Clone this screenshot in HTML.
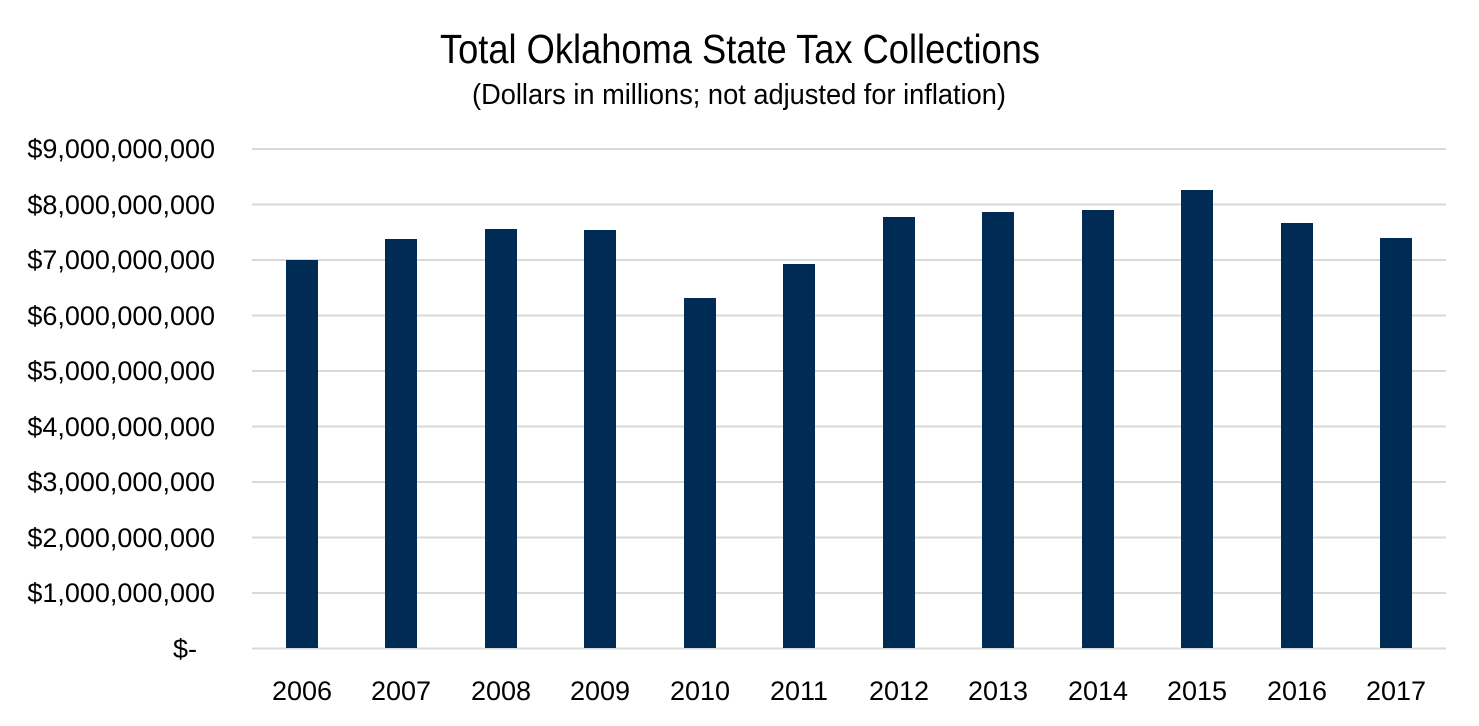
<!DOCTYPE html>
<html><head><meta charset="utf-8"><style>
html,body{margin:0;padding:0;background:#fff;}
svg{display:block;font-family:"Liberation Sans Narrow","Liberation Sans",sans-serif;}
</style></head><body>
<svg width="1479" height="726" viewBox="0 0 1479 726" xmlns="http://www.w3.org/2000/svg">
<rect width="1479" height="726" fill="#fff"/>
<text x="440" y="63" font-size="41" fill="#000" textLength="600" lengthAdjust="spacingAndGlyphs">Total Oklahoma State Tax Collections</text>
<text x="472" y="104" font-size="29" fill="#000" textLength="534" lengthAdjust="spacingAndGlyphs">(Dollars in millions; not adjusted for inflation)</text>
<g stroke="#d9d9d9" stroke-width="2">
<line x1="252" x2="1446" y1="149" y2="149"/>
<line x1="252" x2="1446" y1="204.5" y2="204.5"/>
<line x1="252" x2="1446" y1="260" y2="260"/>
<line x1="252" x2="1446" y1="315.5" y2="315.5"/>
<line x1="252" x2="1446" y1="371" y2="371"/>
<line x1="252" x2="1446" y1="426.5" y2="426.5"/>
<line x1="252" x2="1446" y1="482" y2="482"/>
<line x1="252" x2="1446" y1="537.5" y2="537.5"/>
<line x1="252" x2="1446" y1="593" y2="593"/>
<line x1="252" x2="1446" y1="648.5" y2="648.5"/>
</g>
<g font-size="27" text-anchor="end" fill="#000">
<text x="215" y="158">$9,000,000,000</text>
<text x="215" y="214">$8,000,000,000</text>
<text x="215" y="269">$7,000,000,000</text>
<text x="215" y="325">$6,000,000,000</text>
<text x="215" y="380">$5,000,000,000</text>
<text x="215" y="436">$4,000,000,000</text>
<text x="215" y="491">$3,000,000,000</text>
<text x="215" y="547">$2,000,000,000</text>
<text x="215" y="602">$1,000,000,000</text>
<text x="197" y="658">$-</text>
</g>
<g fill="#002b54">
<rect x="286" y="260" width="32" height="388"/>
<rect x="385" y="239" width="32" height="409"/>
<rect x="485" y="229" width="32" height="419"/>
<rect x="584" y="230" width="32" height="418"/>
<rect x="684" y="298" width="32" height="350"/>
<rect x="783" y="264" width="32" height="384"/>
<rect x="883" y="217" width="32" height="431"/>
<rect x="982" y="212" width="32" height="436"/>
<rect x="1082" y="210" width="32" height="438"/>
<rect x="1181" y="190" width="32" height="458"/>
<rect x="1281" y="223" width="32" height="425"/>
<rect x="1380" y="238" width="32" height="410"/>
</g>
<g font-size="27" text-anchor="middle" fill="#000">
<text x="302" y="700">2006</text>
<text x="401" y="700">2007</text>
<text x="501" y="700">2008</text>
<text x="600" y="700">2009</text>
<text x="700" y="700">2010</text>
<text x="799" y="700">2011</text>
<text x="899" y="700">2012</text>
<text x="998" y="700">2013</text>
<text x="1098" y="700">2014</text>
<text x="1197" y="700">2015</text>
<text x="1297" y="700">2016</text>
<text x="1396" y="700">2017</text>
</g>
</svg>
</body></html>
